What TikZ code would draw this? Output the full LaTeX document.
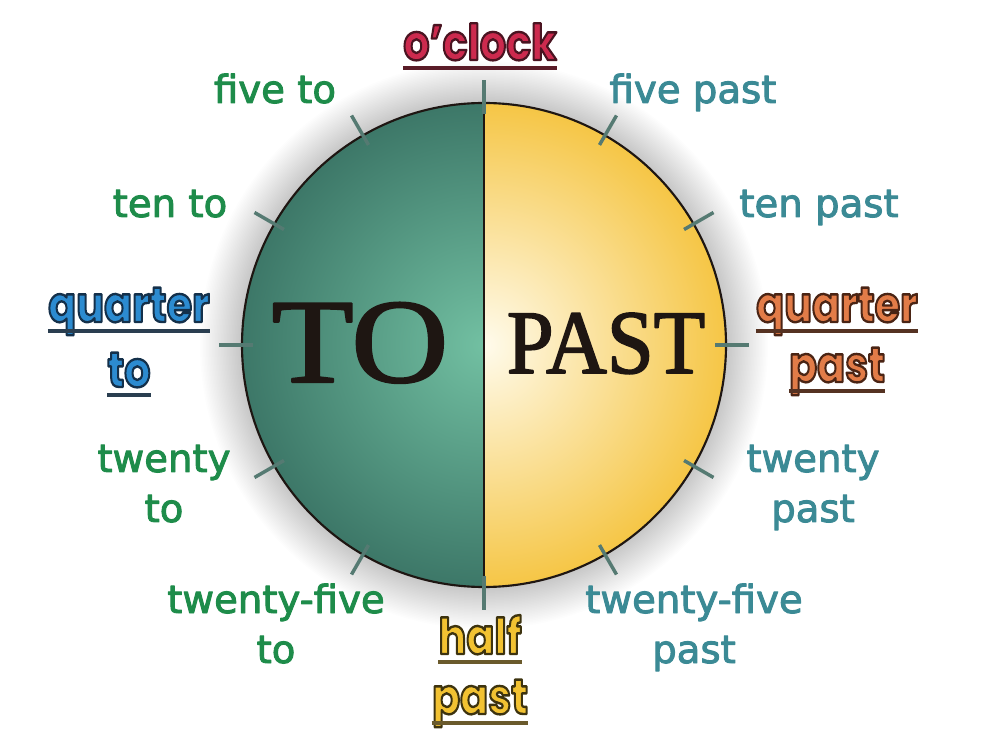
\documentclass[tikz,border=0pt]{standalone}
\usepackage{fontspec}
\usetikzlibrary{calc}
\setmainfont{Liberation Serif}
\newfontfamily\labfont{DejaVu Sans}
\newfontfamily\bubfont{Poppins}
\definecolor{togreen}{HTML}{1E8C4A}
\definecolor{pastteal}{HTML}{3B8A95}
\definecolor{tealdark}{HTML}{3B7566}
\definecolor{teallight}{HTML}{72C0A2}
\definecolor{yelout}{HTML}{F5C440}
\definecolor{yelin}{HTML}{FFFBEC}
\definecolor{tickc}{HTML}{557A72}
\definecolor{inkc}{HTML}{1E1612}
\definecolor{redfill}{HTML}{CC2A4E}
\definecolor{redul}{HTML}{5A1C28}
\definecolor{bluefill}{HTML}{2C8BD0}
\definecolor{blueul}{HTML}{2A3E50}
\definecolor{orfill}{HTML}{E27C48}
\definecolor{orul}{HTML}{553222}
\definecolor{yefill}{HTML}{F2C232}
\definecolor{yeul}{HTML}{6A5A2C}
% #1 fill colour, #2 stroke colour as "r g b", #3 text
\newcommand{\bubtext}[3]{{\color{#1}\scalebox{1}[1.2]{\special{pdf:literal direct 2 Tr 1.5 w 1 j #2 RG}#3\special{pdf:literal direct 0 Tr}}}}
% heavier text in the current colour
\newcommand{\heavy}[2]{\special{pdf:literal direct 2 Tr #1 w 1 j}#2\special{pdf:literal direct 0 Tr}}
\begin{document}
\begin{tikzpicture}[x=0.75pt,y=-0.75pt,
  lab/.style={anchor=base, inner sep=0pt, font=\labfont\fontsize{29}{29}\selectfont},
  tolab/.style={lab, text=togreen},
  pastlab/.style={lab, text=pastteal},
  bub/.style={anchor=base, inner sep=0pt, font=\bubfont\bfseries\fontsize{31}{31}\selectfont},
  clocktick/.style={line width=2.6pt, draw=tickc},
  ul/.style={line width=3pt},
  big/.style={anchor=base, inner sep=0pt, text=inkc}
]
\useasboundingbox (0,0) rectangle (1000,755);
\fill[white] (0,0) rectangle (1000,755);
\coordinate (C) at (484,345);
% halo
\foreach \k in {1,...,28} {
  \fill[black, opacity=0.008] (C) circle ({242+\k*1.5});
}
% halves
\begin{scope}
  \clip (484,103) arc[start angle=270, end angle=90, radius=242] -- cycle;
  \shade[inner color=teallight, outer color=tealdark] (C) circle (250);
\end{scope}
\begin{scope}
  \clip (484,103) arc[start angle=-90, end angle=90, radius=242] -- cycle;
  \shade[inner color=yelin, outer color=yelout] (C) circle (250);
\end{scope}
\draw[line width=1.6pt, inkc] (C) circle (242);
\draw[line width=1.4pt, inkc] (484,103) -- (484,587);
% ticks
\foreach \i in {0,...,11} {
  \draw[clocktick] ($(C)+({-90+30*\i}:231)$) -- ($(C)+({-90+30*\i}:265)$);
}
% big words
\node[big, font=\fontsize{90}{90}\selectfont, xscale=1.12] (to) at (360,382) {\heavy{1.6}{TO}};
\node[big, font=\fontsize{68}{68}\selectfont, xscale=0.93] (past) at (606,373) {\heavy{1.3}{PAST}};
% small labels
\node[tolab] (fiveto) at (275,103) {\heavy{0.7}{five to}};
\node[pastlab] (fivepast) at (693,103) {\heavy{0.7}{five past}};
\node[tolab] (tento) at (170,217) {\heavy{0.7}{ten to}};
\node[pastlab] (tenpast) at (819,217) {\heavy{0.7}{ten past}};
\node[tolab] (twtoA) at (164,472) {\heavy{0.7}{twenty}};
\node[tolab] (twtoB) at (164,522) {\heavy{0.7}{to}};
\node[pastlab] (twpastA) at (813,472) {\heavy{0.7}{twenty}};
\node[pastlab] (twpastB) at (813,522) {\heavy{0.7}{past}};
\node[tolab] (tftoA) at (276,613) {\heavy{0.7}{twenty-five}};
\node[tolab] (tftoB) at (276,663) {\heavy{0.7}{to}};
\node[pastlab] (tfpastA) at (694,613) {\heavy{0.7}{twenty-five}};
\node[pastlab] (tfpastB) at (694,663) {\heavy{0.7}{past}};
% bubble labels
\node[bub] (oclock) at (480,60) {\bubtext{redfill}{0.29 0.08 0.13}{o’clock}};
\draw[ul, redul] ([yshift=-6pt]oclock.base west) -- ([yshift=-6pt]oclock.base east);
\node[bub] (qtoA) at (129,322) {\bubtext{bluefill}{0.08 0.19 0.29}{quarter}};
\draw[ul, blueul] ([yshift=-7pt]qtoA.base west) -- ([yshift=-7pt]qtoA.base east);
\node[bub] (qtoB) at (129,387) {\bubtext{bluefill}{0.08 0.19 0.29}{to}};
\draw[ul, blueul] ([yshift=-6pt]qtoB.base west) -- ([yshift=-6pt]qtoB.base east);
\node[bub] (qpastA) at (837,322) {\bubtext{orfill}{0.29 0.14 0.08}{quarter}};
\draw[ul, orul] ([yshift=-7pt]qpastA.base west) -- ([yshift=-7pt]qpastA.base east);
\node[bub] (qpastB) at (837,382) {\bubtext{orfill}{0.29 0.14 0.08}{past}};
\draw[ul, orul] ([yshift=-7pt]qpastB.base west) -- ([yshift=-7pt]qpastB.base east);
\node[bub] (halfA) at (480,654) {\bubtext{yefill}{0.24 0.2 0.06}{half}};
\draw[ul, yeul] ([yshift=-6pt]halfA.base west) -- ([yshift=-6pt]halfA.base east);
\node[bub] (halfB) at (480,714) {\bubtext{yefill}{0.24 0.2 0.06}{past}};
\draw[ul, yeul] ([yshift=-7pt]halfB.base west) -- ([yshift=-7pt]halfB.base east);
\end{tikzpicture}
\end{document}
